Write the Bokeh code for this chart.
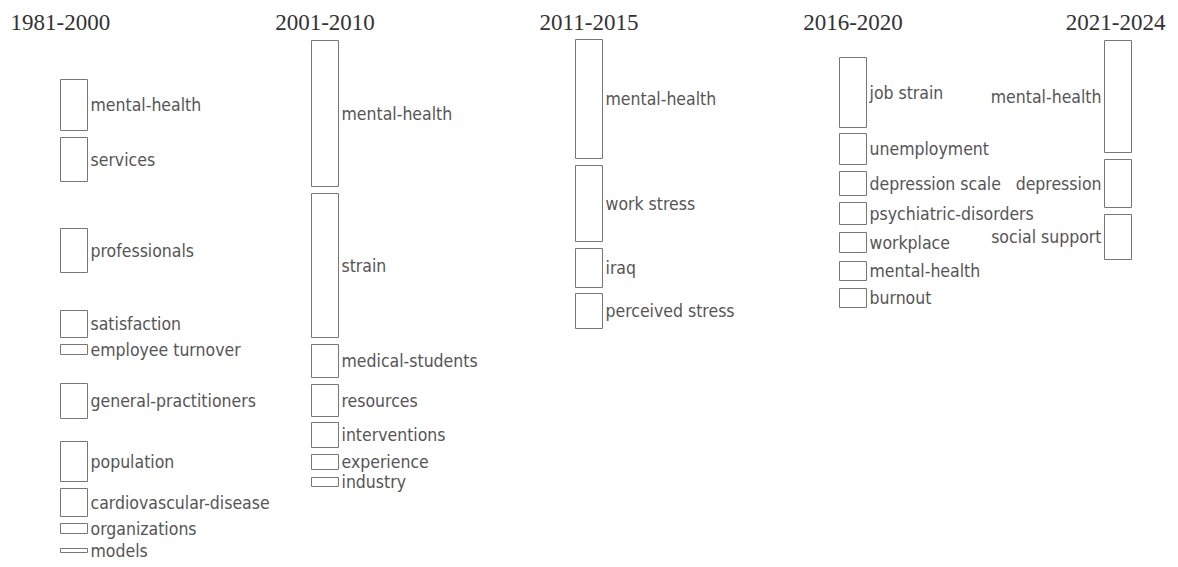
from bokeh.plotting import figure
from bokeh.models import Range1d, ColumnDataSource
from bokeh.core.properties import value
from bokeh.embed import file_html
from bokeh.resources import INLINE

# ---- data -------------------------------------------------------------
periods = ["1981-2000", "2001-2010", "2011-2015", "2016-2020", "2021-2024"]

labels_p1 = ["mental-health", "services", "professionals", "satisfaction",
             "employee turnover", "general-practitioners", "population",
             "cardiovascular-disease", "organizations", "models"]
start_p1 = [79, 137, 228, 310, 344, 383, 441, 488, 523, 548]
value_p1 = [51, 44, 44, 27, 10, 35, 40, 28, 10, 4]

labels_p2 = ["mental-health", "strain", "medical-students", "resources",
             "interventions", "experience", "industry"]
start_p2 = [40, 193, 344, 384, 422, 454, 477]
value_p2 = [146, 144, 33, 32, 25, 15, 9]

labels_p3 = ["mental-health", "work stress", "iraq", "perceived stress"]
start_p3 = [39, 165, 248, 293]
value_p3 = [119, 76, 39, 35]

labels_p4 = ["job strain", "unemployment", "depression scale",
             "psychiatric-disorders", "workplace", "mental-health", "burnout"]
start_p4 = [57, 133, 171, 202, 232, 261, 288]
value_p4 = [70, 31, 24, 22, 20, 19, 19]

labels_p5 = ["mental-health", "depression", "social support"]
start_p5 = [40, 159, 214]
value_p5 = [112, 48, 45]

# ---- layout -----------------------------------------------------------
column_x = [60, 311, 575, 839, 1104]
node_w = 27
W, H = 1170, 559

p = figure(width=W, height=H, output_backend="svg", toolbar_location=None,
           x_range=Range1d(0, W), y_range=Range1d(H, 0),
           min_border=0, outline_line_color=None)
p.axis.visible = False
p.grid.visible = False
p.background_fill_color = "white"
p.border_fill_color = "white"

cols = [(labels_p1, start_p1, value_p1), (labels_p2, start_p2, value_p2),
        (labels_p3, start_p3, value_p3), (labels_p4, start_p4, value_p4),
        (labels_p5, start_p5, value_p5)]

label_font = value("DejaVu Sans Condensed")
for i, (labs, starts, vals) in enumerate(cols):
    x0 = column_x[i]
    last = i == len(cols) - 1
    src = ColumnDataSource(dict(
        left=[x0] * len(labs), right=[x0 + node_w] * len(labs),
        top=starts, bottom=[s + v for s, v in zip(starts, vals)],
        ym=[s + v / 2 for s, v in zip(starts, vals)],
        tx=[(x0 - 3) if last else (x0 + node_w + 3)] * len(labs),
        label=labs))
    p.quad(left="left", right="right", top="top", bottom="bottom", source=src,
           fill_color="white", line_color="#777777", line_width=1)
    p.text(x="tx", y="ym", text="label", source=src,
           text_font=label_font, text_font_size="17.5px", text_color="#555555",
           text_align="right" if last else "left", text_baseline="middle")

# period titles
title_x = [10, column_x[1] + node_w / 2, column_x[2] + node_w / 2,
           column_x[3] + node_w / 2, 1165]
title_align = ["left", "center", "center", "center", "right"]
for i, per in enumerate(periods):
    p.text(x=[title_x[i]], y=[22], text=[per], text_font=value("Liberation Serif"),
           text_font_size="23px", text_color="#333333",
           text_align=title_align[i], text_baseline="middle")

open("out.html", "w").write(file_html(p, INLINE))
